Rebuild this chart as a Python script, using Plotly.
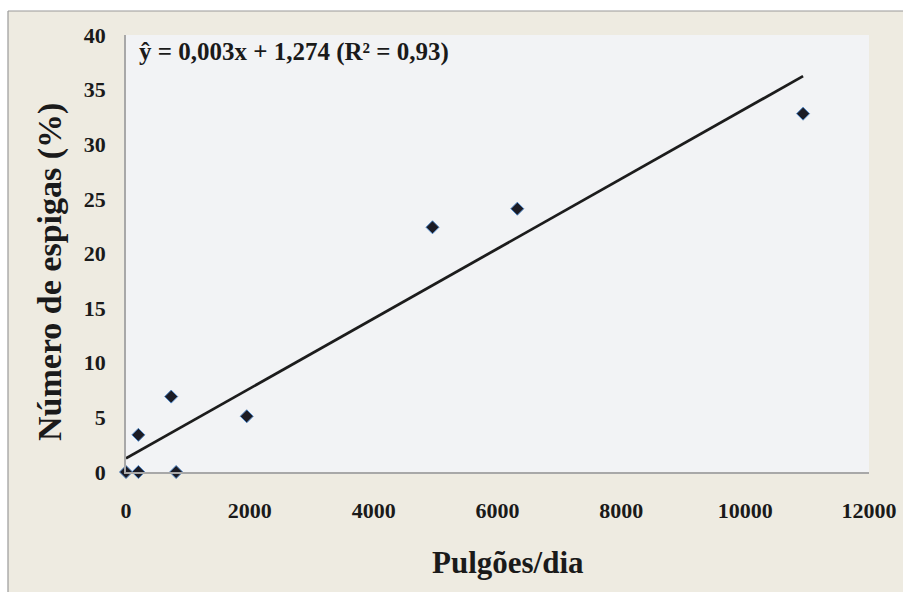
import numpy as np
import plotly.graph_objects as go

# Aphids per day vs. percentage of infested spikes
pulgoes_dia = [0, 200, 200, 730, 810, 1950, 4950, 6320, 10935]
espigas_pct = [0, 0, 3.4, 6.9, 0, 5.1, 22.4, 24.1, 32.8]

x_ticks = [0, 2000, 4000, 6000, 8000, 10000, 12000]
y_ticks = [0, 5, 10, 15, 20, 25, 30, 35, 40]

equation_text = "ŷ = 0,003x + 1,274 (R² = 0,93)"
x_title = "Pulgões/dia"
y_title = "Número de espigas (%)"

# least-squares trend line across the observed range
slope, intercept = np.polyfit(pulgoes_dia, espigas_pct, 1)
trend_x = np.array([0, max(pulgoes_dia)])
trend_y = slope * trend_x + intercept

SERIF = "Liberation Serif"
W, H = 903, 592
L, R, T, B = 126, 34, 35, 120
pw, ph = W - L - R, H - T - B


def px_x(px):
    return (px - L) / pw


def px_y(py):
    return (H - B - py) / ph


fig = go.Figure()
fig.add_trace(go.Scatter(
    x=trend_x, y=trend_y, mode="lines",
    line=dict(color="#1c1c1c", width=2.8),
    showlegend=False, hoverinfo="skip",
))
fig.add_trace(go.Scatter(
    x=pulgoes_dia, y=espigas_pct, mode="markers",
    marker=dict(symbol="diamond", size=10, color="#1b1b24",
                line=dict(color="#4f86c6", width=1)),
    cliponaxis=False, showlegend=False,
))

bg = "#eeebe1"
axis_font = dict(family=SERIF, size=22, weight="bold", color="#1a1a1a")
fig.update_layout(
    width=W, height=H,
    margin=dict(l=L, r=R, t=T, b=B, autoexpand=False),
    paper_bgcolor=bg,
    plot_bgcolor="#f2f3f5",
    font=dict(family=SERIF, color="#1a1a1a"),
    xaxis=dict(
        range=[0, 12000], tickvals=x_ticks, ticktext=[str(v) for v in x_ticks],
        showgrid=False, zeroline=False, showline=True, automargin=False,
        linecolor="#a8a8a8", linewidth=1.5, ticks="",
        ticklabelstandoff=18, tickfont=axis_font,
    ),
    yaxis=dict(
        range=[0, 40], tickvals=y_ticks, ticktext=[str(v) for v in y_ticks],
        showgrid=False, zeroline=False, showline=True, automargin=False,
        linecolor="#a8a8a8", linewidth=1.5, ticks="",
        ticklabelstandoff=14, tickfont=axis_font,
    ),
    annotations=[
        dict(text=f"<b>{equation_text}</b>", xref="paper", yref="paper",
             x=px_x(137), y=px_y(52), xanchor="left", yanchor="middle",
             showarrow=False, font=dict(family=SERIF, size=25, color="#1a1a1a")),
        dict(text=f"<b>{x_title}</b>", xref="paper", yref="paper",
             x=px_x(508), y=px_y(562), xanchor="center", yanchor="middle",
             showarrow=False, font=dict(family=SERIF, size=31, color="#1a1a1a")),
        dict(text=f"<b>{y_title}</b>", xref="paper", yref="paper",
             x=px_x(50), y=px_y(272), xanchor="center", yanchor="middle",
             textangle=-90, showarrow=False,
             font=dict(family=SERIF, size=34, color="#1a1a1a")),
    ],
    shapes=[
        # white page strips outside the framed chart area
        dict(type="rect", xref="paper", yref="paper", layer="above",
             x0=px_x(-5), x1=px_x(8), y0=px_y(H + 5), y1=px_y(-5),
             fillcolor="white", line=dict(width=0)),
        dict(type="rect", xref="paper", yref="paper", layer="above",
             x0=px_x(-5), x1=px_x(W + 5), y0=px_y(11), y1=px_y(-5),
             fillcolor="white", line=dict(width=0)),
        # frame border
        dict(type="line", xref="paper", yref="paper", layer="above",
             x0=px_x(8), x1=px_x(8), y0=px_y(11), y1=px_y(H + 5),
             line=dict(color="#9a9a9a", width=1.2)),
        dict(type="line", xref="paper", yref="paper", layer="above",
             x0=px_x(8), x1=px_x(W + 5), y0=px_y(11), y1=px_y(11),
             line=dict(color="#9a9a9a", width=1.2)),
    ],
)

fig.write_html("out.html")
